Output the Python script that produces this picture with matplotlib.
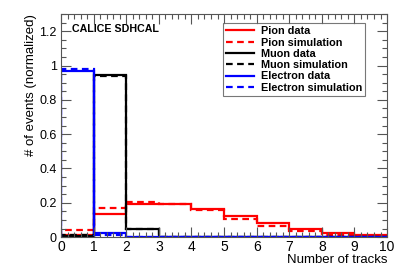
import numpy as np
import matplotlib
matplotlib.use("Agg")
from matplotlib import pyplot as plt
from matplotlib.ticker import MultipleLocator, FuncFormatter

plt.rcParams['font.family'] = ['Liberation Sans', 'DejaVu Sans']

edges = np.arange(0, 11)
pion_data = [0.015, 0.135, 0.19, 0.195, 0.165, 0.12, 0.08, 0.045, 0.025, 0.01]
pion_sim = [0.04, 0.17, 0.205, 0.195, 0.155, 0.105, 0.065, 0.035, 0.015, 0.008]
muon_data = [0.005, 0.945, 0.05, 0.0, 0.0, 0.0, 0.0, 0.0, 0.0, 0.0]
muon_sim = [0.01, 0.94, 0.045, 0.0, 0.0, 0.0, 0.0, 0.0, 0.0, 0.0]
elec_data = [0.97, 0.025, 0.002, 0.001, 0.0, 0.0, 0.0, 0.0, 0.0, 0.0]
elec_sim = [0.98, 0.015, 0.001, 0.0, 0.0, 0.0, 0.0, 0.0, 0.0, 0.0]

fig = plt.figure(figsize=(4.07, 2.76), dpi=100)
ax = fig.add_axes([0.150, 0.141, 0.801, 0.808])

lw = 1.6
ax.stairs(pion_data, edges, color='red', lw=lw, label='Pion data')
ax.stairs(pion_sim, edges, color='red', lw=lw, ls=(0, (3, 2)), label='Pion simulation')
ax.stairs(muon_data, edges, color='black', lw=lw, label='Muon data')
ax.stairs(muon_sim, edges, color='black', lw=lw, ls=(0, (3, 2)), label='Muon simulation')
ax.stairs(elec_data, edges, color='blue', lw=lw, label='Electron data')
ax.stairs(elec_sim, edges, color='blue', lw=lw, ls=(0, (3, 2)), label='Electron simulation')

ax.set_xlim(0, 10)
ax.set_ylim(0, 1.3)
ax.xaxis.set_major_locator(MultipleLocator(1))
ax.xaxis.set_minor_locator(MultipleLocator(0.2))
ax.yaxis.set_major_locator(MultipleLocator(0.2))
ax.yaxis.set_minor_locator(MultipleLocator(0.05))
ax.yaxis.set_major_formatter(FuncFormatter(lambda v, p: ('%g' % round(v, 2))))
ax.tick_params(which='both', direction='in', top=True, right=True, colors='#555555',
               labelcolor='black')
ax.tick_params(which='major', length=7, width=0.8)
ax.tick_params(which='minor', length=3.5, width=0.8)
ax.tick_params(axis='x', labelsize=10, pad=2)
ax.tick_params(axis='y', labelsize=9, pad=3)
for s in ax.spines.values():
    s.set_color('#555555')
    s.set_linewidth(0.8)

ax.set_xlabel('Number of tracks', fontsize=9.5, loc='right', labelpad=0)
ax.set_ylabel('# of events (normalized)', fontsize=9.5, loc='top', labelpad=2)

ax.text(0.035, 0.955, 'CALICE SDHCAL', transform=ax.transAxes, fontsize=7.7,
        fontweight='bold', va='top', ha='left')

leg = ax.legend(loc='upper left', bbox_to_anchor=(0.497, 0.96), fontsize=7.8,
                frameon=True, fancybox=False, edgecolor='#555555',
                handlelength=2.6, handletextpad=0.6, labelspacing=0.12,
                borderpad=0.3, borderaxespad=0)
leg.get_frame().set_linewidth(0.8)
for t in leg.get_texts():
    t.set_fontweight('bold')

fig.savefig('out.png', dpi=100)
